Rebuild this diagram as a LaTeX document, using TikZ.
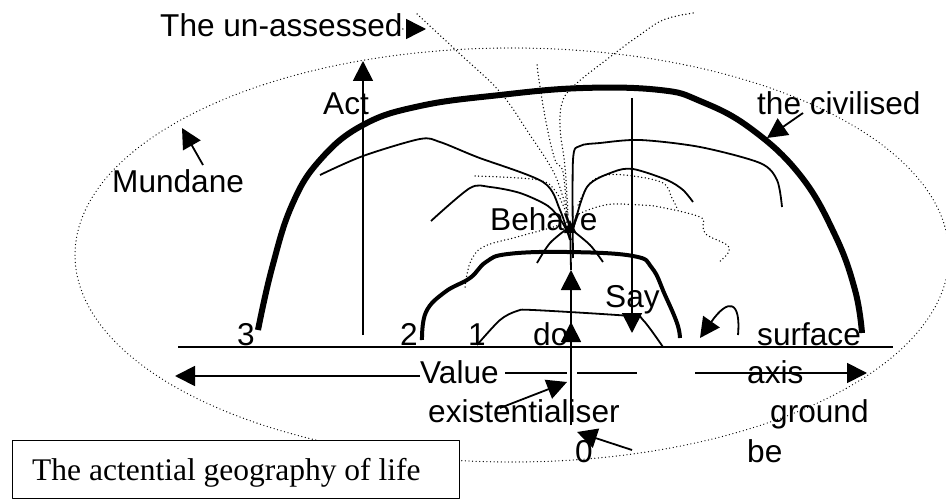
\documentclass[tikz,border=0pt]{standalone}
\usepackage{fontspec}
\setmainfont{Liberation Sans}
\newfontfamily\serifF{Liberation Serif}
\usetikzlibrary{arrows.meta}
\begin{document}
\begin{tikzpicture}[x=1pt,y=-1pt,
  lbl/.style={anchor=base west,inner sep=0pt,font=\fontsize{31.6}{36}\selectfont},
  thinline/.style={line width=1.8pt},
  thickarch/.style={line width=6pt},
  midarch/.style={line width=4pt},
  dots/.style={line width=1.5pt,line cap=round,dash pattern=on 0pt off 3.6pt},
  arr/.style={-{Triangle[length=20pt,width=20pt]}},
  smallarr/.style={-{Triangle[length=13pt,width=12pt]}},
  line join=round]
\useasboundingbox (0,0) rectangle (946,500);
\fill[white] (0,0) rectangle (946,500);

% outer dotted ellipse
\draw[dots,line width=1.3pt] (512,255) ellipse [x radius=437, y radius=207];

% dotted lines converging on Behave
\draw[dots] plot[smooth,tension=0.6] coordinates {(417,14) (460,54) (500,92) (530,135) (555,175) (568,215)};
\draw[dots] plot[smooth,tension=0.6] coordinates {(537,65) (540,87) (547,127) (555,160) (563,172) (567,215)};
\draw[dots] plot[smooth,tension=0.6] coordinates {(693,13) (663,20) (637,37) (610,57) (577,83) (563,100) (560,127) (565,167) (568,215)};
\draw[dots] plot[smooth,tension=0.6] coordinates {(475,176) (538,180) (556,192) (567,215)};
\draw[dots] plot[smooth,tension=0.6] coordinates {(465,287) (470,263) (483,247) (517,237) (550,228) (567,222)};
\draw[dots] plot[smooth,tension=0.6] coordinates {(573,217) (583,212) (597,207) (613,204) (640,205) (660,207) (700,217) (703,227) (707,235) (727,245) (728,253) (718,263)};
\draw[dots] plot[smooth,tension=0.6] coordinates {(578,205) (590,183) (607,175) (633,176) (663,183) (672,198) (677,208)};

% thin solid lines
\draw[thinline] plot[smooth,tension=0.5] coordinates {(320,175) (363,156) (420,139) (440,142) (477,157) (543,182) (560,210) (570,240)};
\draw[thinline] plot[smooth,tension=0.5] coordinates {(431,221) (470,188) (490,187) (520,193) (548,206) (562,222) (571,240)};
\draw[thinline] plot[smooth,tension=0.5] coordinates {(573,258) (573,160) (580,146) (600,143) (640,140) (700,147) (760,163) (777,180) (782,207)};
\draw[thinline] plot[smooth,tension=0.5] coordinates {(573,230) (587,187) (613,172) (633,169) (667,180) (683,190) (693,202)};
\draw[thinline] plot[smooth,tension=0.5] coordinates {(537,263) (550,243) (568,228)};
\draw[thinline] plot[smooth,tension=0.5] coordinates {(603,262) (590,245) (572,230)};
\draw[thinline] plot[smooth,tension=0.5] coordinates {(477,345) (500,320) (517,311) (533,310) (630,316) (643,320) (663,347)};

% thick arches
\draw[thickarch] plot[smooth,tension=0.7] coordinates {(258,330) (272,268) (292,205) (320,160) (363,125) (420,106) (500,95) (583,88) (660,90) (700,101) (750,128) (800,175) (835,235) (855,290) (862,333)};
\draw[midarch] plot[smooth,tension=0.7] coordinates {(422,340) (426,312) (445,292) (470,278) (486,262) (508,254) (567,252) (633,256) (652,268) (665,295) (677,323) (680,338)};

% ground line
\coordinate (gl) at (178,347);
\coordinate (gr) at (893,347);
\draw[thinline] (gl) -- (gr);

% texts
\node[lbl] (unassessed) at (160,37) {The un-assessed};
\node[lbl] (act) at (323,115) {Act};
\node[lbl] (mundane) at (112,193) {Mundane};
\node[lbl] (civilised) at (757,115) {the civilised};
\node[lbl] (behave) at (490,230) {Behave};
\node[lbl] (say) at (605,307) {Say};
\node[lbl] (three) at (237,345) {3};
\node[lbl] (two) at (400,345) {2};
\node[lbl] (one) at (468,345) {1};
\node[lbl] (do) at (533,345) {do};
\node[lbl] (surface) at (757,345) {surface};
\node[lbl] (value) at (420,383) {Value};
\node[lbl] (axis) at (747,383) {axis};
\node[lbl] (exist) at (428,422) {existentialiser};
\node[lbl] (ground) at (770,422) {ground};
\node[lbl] (zero) at (575,462) {0};
\node[lbl] (be) at (747,462) {be};

% vertical arrows
\coordinate (actbot) at (363,335);
\coordinate (acttop) at (363,61);
\draw[thinline,arr] (actbot) -- (acttop);
\coordinate (saytop) at (632,98);
\coordinate (saybot) at (632,333);
\draw[thinline,arr] (saytop) -- (saybot);
\coordinate (exbot) at (571,425);
\coordinate (dotip) at (571,322);
\coordinate (mid) at (571,270);
\coordinate (behtip) at (570,220);
\draw[thinline,arr] (exbot) -- (dotip);
\draw[thinline,arr] (571,343) -- (mid);
\draw[thinline,smallarr] (mid) -- (behtip);

% horizontal value axis
\coordinate (vl) at (175,376);
\draw[thinline,arr] (value.west |- 0,376) -- (vl);
\draw[thinline] (505,373) -- (567,373);
\draw[thinline] (577,373) -- (637,373);
\coordinate (ar) at (867,373);
\draw[thinline,arr] (695,373) -- (ar);

% small pointer arrows
\draw[dots,arr] (unassessed.east |- 0,29) -- (426,29);
\coordinate (mun1) at (203,165);
\coordinate (mun2) at (182,128);
\draw[thinline,arr] (mun1) -- (mun2);
\coordinate (civ1) at (803,113);
\coordinate (civ2) at (767,138);
\draw[thinline,arr] (civ1) -- (civ2);
\coordinate (ex1) at (500,408);
\coordinate (ex2) at (567,382);
\draw[thinline,arr] (ex1) -- (ex2);
\coordinate (z1) at (632,450);
\coordinate (z2) at (577,432);
\draw[thinline,arr] (z1) -- (z2);
\coordinate (hk1) at (738,335);
\coordinate (hk2) at (700,338);
\draw[thinline,arr] (hk1) .. controls (741,300) and (728,298) .. (hk2);

% caption box
\node[draw,fill=white,line width=1pt,anchor=north west,minimum width=447pt,minimum height=58pt,inner sep=0pt] (box) at (12,440) {};
\node[anchor=base west,inner sep=0pt,font=\serifF\fontsize{31.5}{36}\selectfont] (title) at (32,480) {The actential geography of life};
\end{tikzpicture}
\end{document}
